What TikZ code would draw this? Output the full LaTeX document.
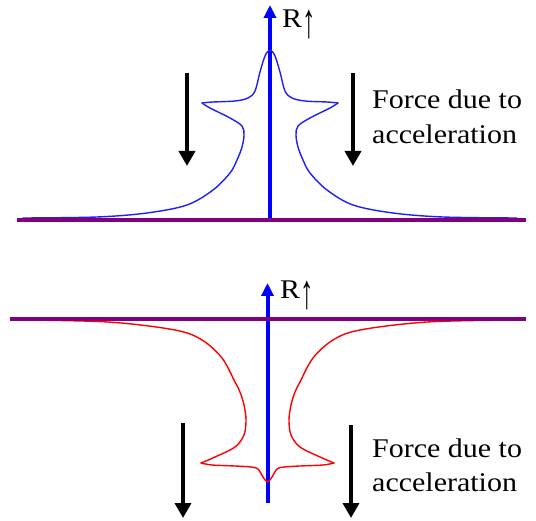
\documentclass[tikz,border=0pt]{standalone}
\usepackage{fontspec}
\setmainfont{Liberation Serif}
\usetikzlibrary{arrows.meta}
\definecolor{axisblue}{RGB}{0,0,255}
\definecolor{curveblue}{RGB}{30,30,255}
\definecolor{groundpurple}{RGB}{128,0,128}
\definecolor{curvered}{RGB}{255,0,0}
\newcommand{\tallup}{\raisebox{-10pt}{\scalebox{0.9}[1.8]{↑}}}
\begin{document}
\begin{tikzpicture}[x=1pt,y=-1pt,
  curve/.style={line width=1.4pt, line join=round, line cap=round},
  axisline/.style={draw=axisblue, line width=4pt, -{Triangle[width=12pt,length=13pt]}},
  forcearrow/.style={draw=black, line width=3.5pt, -{Triangle[width=16pt,length=15pt]}},
  ground/.style={draw=groundpurple, line width=3.6pt},
  lbl/.style={font=\fontsize{27}{32}\selectfont, inner sep=0pt, anchor=base west, xscale=1.11}]
\useasboundingbox (0,0) rectangle (536,521);

% ---------- top diagram ----------
\coordinate (tgl) at (17,220);
\coordinate (tgr) at (526,220);
\coordinate (tab) at (270,221);
\coordinate (tat) at (270,5);
\draw[axisline] (tab) -- (tat);
\draw[curve, curveblue] plot[smooth, tension=0.55] coordinates {(202,103)(213,102)(235,101)(248,98)(255,91)(260,72)(265,56)(270,50)(275,56)(280,72)(285,91)(292,98)(305,101)(327,102)(338,103)};
\draw[curve, curveblue] plot[smooth, tension=0.55] coordinates {(338,103)(330,108)(310,118)(298,126)(296,135)(298,147)(303,160)(310,173)(327,190)(353,205)(393,213)(443,217)(517,218)};
\draw[curve, curveblue] plot[smooth, tension=0.55] coordinates {(202,103)(210,108)(230,118)(242,126)(244,135)(242,147)(237,160)(230,173)(213,190)(187,205)(147,213)(97,217)(23,218)};
\draw[ground] (tgl) -- (tgr);
\coordinate (tfls) at (187,73);
\coordinate (tfle) at (187,166);
\coordinate (tfrs) at (353,73);
\coordinate (tfre) at (353,166);
\draw[forcearrow] (tfls) -- (tfle);
\draw[forcearrow] (tfrs) -- (tfre);
\node[lbl] (tR) at (282,28) {R\tallup};
\node[lbl] (tf1) at (372,109) {Force due to};
\node[lbl] (tf2) at (372,144) {acceleration};

% ---------- bottom diagram ----------
\coordinate (bgl) at (10,319);
\coordinate (bgr) at (526,319);
\coordinate (bab) at (267.5,503);
\coordinate (bat) at (267.5,283);
\draw[axisline] (bab) -- (bat);
\draw[curve, curvered] plot[smooth, tension=0.55] coordinates {(201,463)(212,465)(235,466)(251,467)(258,469)(263,477)(267.5,482)(272,477)(277,469)(284,467)(300,466)(323,465)(334,463)};
\draw[curve, curvered] plot[smooth, tension=0.55] coordinates {(334,463)(320,457)(300,447)(291,435)(289,420)(291,405)(295,392)(300,382)(313,358)(333,340)(360,330)(427,322)(517,320)};
\draw[curve, curvered] plot[smooth, tension=0.55] coordinates {(201,463)(215,457)(235,447)(244,435)(246,420)(244,405)(240,392)(235,382)(222,358)(202,340)(175,330)(108,322)(18,320)};
\draw[ground] (bgl) -- (bgr);
\coordinate (bfls) at (183,423);
\coordinate (bfle) at (183,518);
\coordinate (bfrs) at (351,425);
\coordinate (bfre) at (351,518);
\draw[forcearrow] (bfls) -- (bfle);
\draw[forcearrow] (bfrs) -- (bfre);
\node[lbl] (bR) at (280,299) {R\tallup};
\node[lbl] (bf1) at (372,457) {Force due to};
\node[lbl] (bf2) at (372,492) {acceleration};
\end{tikzpicture}
\end{document}
